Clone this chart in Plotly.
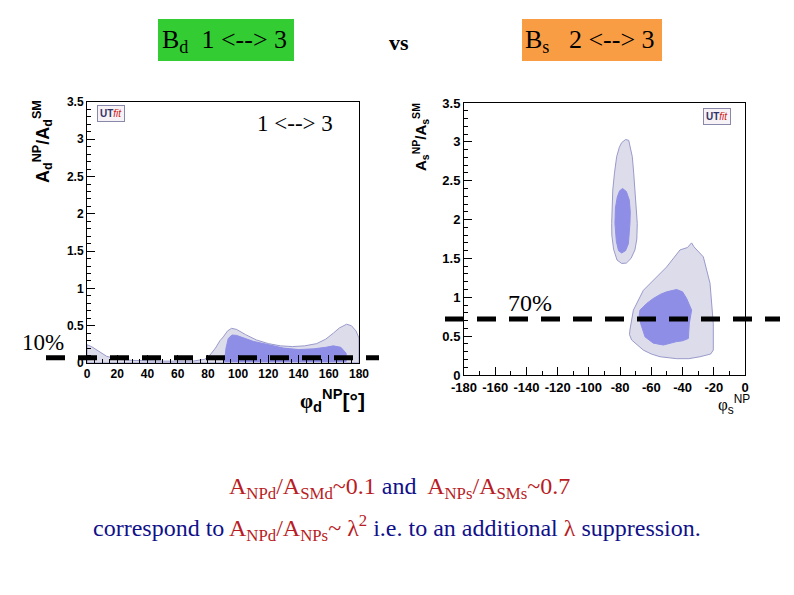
import plotly.graph_objects as go

W, H = 794, 595
OFF = 8  # browser default body margin

# ---------------- data ----------------
# Bd: phi_d^NP [deg] vs A_d^NP/A_d^SM
bd95_phi = [0, 0, 3, 8, 13, 20, 30, 50, 70, 78, 81.4, 85, 88, 90.2, 93, 95.7, 99, 105, 112, 120, 128, 136, 144, 152, 158, 163, 167, 171.8, 175, 178, 180, 180]
bd95_a   = [0, 0.245, 0.22, 0.15, 0.09, 0.05, 0.035, 0.025, 0.025, 0.05, 0.107, 0.2, 0.3, 0.35, 0.43, 0.465, 0.45, 0.38, 0.31, 0.26, 0.23, 0.22, 0.23, 0.26, 0.32, 0.4, 0.47, 0.52, 0.5, 0.43, 0.335, 0]
bd68_phi = [91, 92, 93.5, 96, 99, 104, 110, 119, 130, 140, 150, 158, 163, 168, 171.5, 171.5]
bd68_a   = [0.02, 0.2, 0.33, 0.375, 0.37, 0.33, 0.29, 0.25, 0.2, 0.18, 0.19, 0.21, 0.23, 0.21, 0.13, 0.02]

# Bs: phi_s^NP [deg] vs A_s^NP/A_s^SM
bs95a_phi = [-79, -76.5, -74.5, -73.2, -72.2, -71.3, -70.5, -69.7, -69.0, -69.3, -70.5, -73, -76, -79, -82, -84.2, -85.3, -85.4, -85.0, -84.7, -83.6, -82.2, -80.5]
bs95a_a   = [2.99, 3.03, 3.02, 2.9, 2.81, 2.6, 2.38, 2.15, 1.95, 1.75, 1.61, 1.5, 1.44, 1.435, 1.48, 1.62, 1.8, 1.95, 2.2, 2.38, 2.6, 2.81, 2.93]
bs68a_phi = [-78.4, -76, -74.1, -73.5, -73.7, -74.7, -76.5, -79, -81, -82.4, -83.3, -83, -81.8, -80.3]
bs68a_a   = [2.4, 2.36, 2.25, 2.1, 1.95, 1.69, 1.6, 1.57, 1.6, 1.72, 1.95, 2.15, 2.29, 2.37]
bs95b_phi = [-73.7, -71.5, -65.1, -57, -50.2, -41.6, -36.9, -34.2, -32.7, -26.7, -22.4, -20.3, -20.3, -22, -28.8, -36, -43.8, -54.4, -60, -65.1, -70, -72.6, -74]
bs95b_a   = [0.58, 0.835, 1.09, 1.25, 1.39, 1.61, 1.64, 1.70, 1.65, 1.52, 1.18, 0.66, 0.32, 0.27, 0.235, 0.21, 0.21, 0.235, 0.27, 0.32, 0.4, 0.45, 0.52]
bs68b_phi = [-67.3, -63, -58.7, -54, -50.2, -43.8, -40, -37.4, -34.2, -35.0, -35.7, -36.3, -40, -43.8, -52.3, -58.7, -64, -66.8, -67.8]
bs68b_a   = [0.835, 0.92, 0.985, 1.04, 1.07, 1.10, 1.07, 0.985, 0.835, 0.75, 0.66, 0.47, 0.44, 0.43, 0.386, 0.41, 0.49, 0.66, 0.76]

threshold_d = [0.07]
threshold_s = [0.72]

xticks_d = [0, 20, 40, 60, 80, 100, 120, 140, 160, 180]
xticks_s = [-180, -160, -140, -120, -100, -80, -60, -40, -20, 0]
xlabels_s = ["-180", "-160", "-140", "-120", "-100", "-80", "-60", "-40", "-20", "0"]
yticks = [0, 0.5, 1, 1.5, 2, 2.5, 3, 3.5]
ylabels = ["0", "0.5", "1", "1.5", "2", "2.5", "3", "3.5"]

# ---------------- styles ----------------
LIGHT = "#dcdceb"
DARK = "#8e8ee6"
EDGE = "#9a9acc"
RED = "#b81c24"
BLUE = "#10108a"


def X(px):
    return (px - OFF) / W


def Y(py):
    return 1 - (py - OFF) / H


fig = go.Figure()


def region(xs, ys, fill, xa, ya, edge=None):
    fig.add_trace(go.Scatter(
        x=xs + xs[:1], y=ys + ys[:1], mode="lines", fill="toself",
        fillcolor=fill, line=dict(color=edge if edge else fill, width=1),
        xaxis=xa, yaxis=ya, hoverinfo="skip", showlegend=False))


region(bd95_phi, bd95_a, LIGHT, "x", "y", EDGE)
region(bd68_phi, bd68_a, DARK, "x", "y")
region(bs95a_phi, bs95a_a, LIGHT, "x2", "y2", EDGE)
region(bs95b_phi, bs95b_a, LIGHT, "x2", "y2", EDGE)
region(bs68a_phi, bs68a_a, DARK, "x2", "y2")
region(bs68b_phi, bs68b_a, DARK, "x2", "y2")


def axis(domain, anchor, rng, tickvals, ticktext, minor, size, **kw):
    return dict(domain=domain, anchor=anchor, range=rng, tickvals=tickvals, ticktext=ticktext,
                tickangle=0, automargin=False,
                ticks="inside", ticklen=8, tickwidth=1, tickcolor="black",
                minor=dict(dtick=minor, ticks="inside", ticklen=4, tickcolor="black"),
                showline=True, linecolor="black", linewidth=1, mirror=True,
                showgrid=False, zeroline=False,
                tickfont=dict(family="Liberation Sans", size=size, color="black", weight="bold"),
                **kw)


fig.update_layout(
    width=W, height=H,
    margin=dict(l=0, r=0, t=0, b=0, pad=0),
    paper_bgcolor="white", plot_bgcolor="white",
    xaxis=axis([X(87), X(359)], "y", [0, 180], xticks_d, [str(v) for v in xticks_d], 5, 12),
    yaxis=axis([Y(363), Y(102)], "x", [0, 3.5], yticks, ylabels, 0.1, 12),
    xaxis2=axis([X(464), X(745)], "y2", [-180, 0], xticks_s, xlabels_s, 10, 13),
    yaxis2=axis([Y(375), Y(103)], "x2", [0, 3.5], yticks, ylabels, 0.1, 13),
)

shapes = []
# title boxes
shapes.append(dict(type="rect", xref="paper", yref="paper", x0=X(158), x1=X(294),
                   y0=Y(61), y1=Y(19), fillcolor="#33cc33", line=dict(width=0), layer="below"))
shapes.append(dict(type="rect", xref="paper", yref="paper", x0=X(522), x1=X(662),
                   y0=Y(61), y1=Y(19), fillcolor="#f99d45", line=dict(width=0), layer="below"))
# threshold dashed lines
shapes.append(dict(type="line", xref="paper", yref="y", x0=X(46), x1=X(379),
                   y0=threshold_d[0], y1=threshold_d[0],
                   line=dict(color="black", width=5, dash="19px,13px")))
shapes.append(dict(type="line", xref="paper", yref="y2", x0=X(445), x1=X(780),
                   y0=threshold_s[0], y1=threshold_s[0],
                   line=dict(color="black", width=5, dash="19px,13px")))
fig.update_layout(shapes=shapes)


def ann(x, y, text, size, family="Liberation Serif", color="black", angle=0, **kw):
    d = dict(x=X(x), y=Y(y), xref="paper", yref="paper", text=text, showarrow=False,
             font=dict(family=family, size=size, color=color), textangle=angle,
             xanchor="center", yanchor="middle")
    d.update(kw)
    return d


LOGO = "<b><span style='color:#333366'>UT</span></b><i><span style='color:#cc2222'>fit</span></i>"

anns = [
    ann(224, 41, "B<sub>d</sub>  1 &lt;--&gt; 3", 26),
    ann(399, 42, "<b>vs</b>", 22),
    ann(590, 41, "B<sub>s</sub>   2 &lt;--&gt; 3", 26),
    ann(295, 124, "1 &lt;--&gt; 3", 23),
    ann(43, 342, "10%", 23),
    ann(530, 303, "70%", 24),
    # axis titles
    ann(42, 142, "<b>A<sub>d</sub><sup>NP</sup>/A<sub>d</sub><sup>SM</sup></b>", 18,
        family="Liberation Sans", angle=-90),
    ann(420, 137, "<b>A<sub>s</sub><sup>NP</sup>/A<sub>s</sub><sup>SM</sup></b>", 15,
        family="Liberation Sans", angle=-90),
    ann(332, 400, "<b><span style='font-family:Liberation Serif'>φ</span><sub>d</sub><sup>NP</sup>[°]</b>", 21,
        family="Liberation Sans"),
    ann(734, 404, "<span style='font-family:Liberation Serif'>φ</span><sub>s</sub><sup>NP</sup>", 17,
        family="Liberation Sans"),
    # logos
    ann(111, 113, LOGO, 10, family="Liberation Sans", bgcolor="#f6f2f6",
        bordercolor="#8888aa", borderwidth=1, borderpad=2),
    ann(717, 116, LOGO, 10, family="Liberation Sans", bgcolor="#f6f2f6",
        bordercolor="#8888aa", borderwidth=1, borderpad=2),
    # bottom text
    ann(399, 488,
        f"<span style='color:{RED}'>A<sub>NPd</sub>/A<sub>SMd</sub>~0.1</span> and  "
        f"<span style='color:{RED}'>A<sub>NPs</sub>/A<sub>SMs</sub>~0.7</span>", 24, color=BLUE),
    ann(397, 528,
        f"correspond to <span style='color:{RED}'>A<sub>NPd</sub>/A<sub>NPs</sub>~ λ<sup>2</sup></span>"
        f" i.e. to an additional <span style='color:{RED}'>λ</span> suppression.", 24, color=BLUE),
]
fig.update_layout(annotations=anns)

fig.write_html("out.html")
